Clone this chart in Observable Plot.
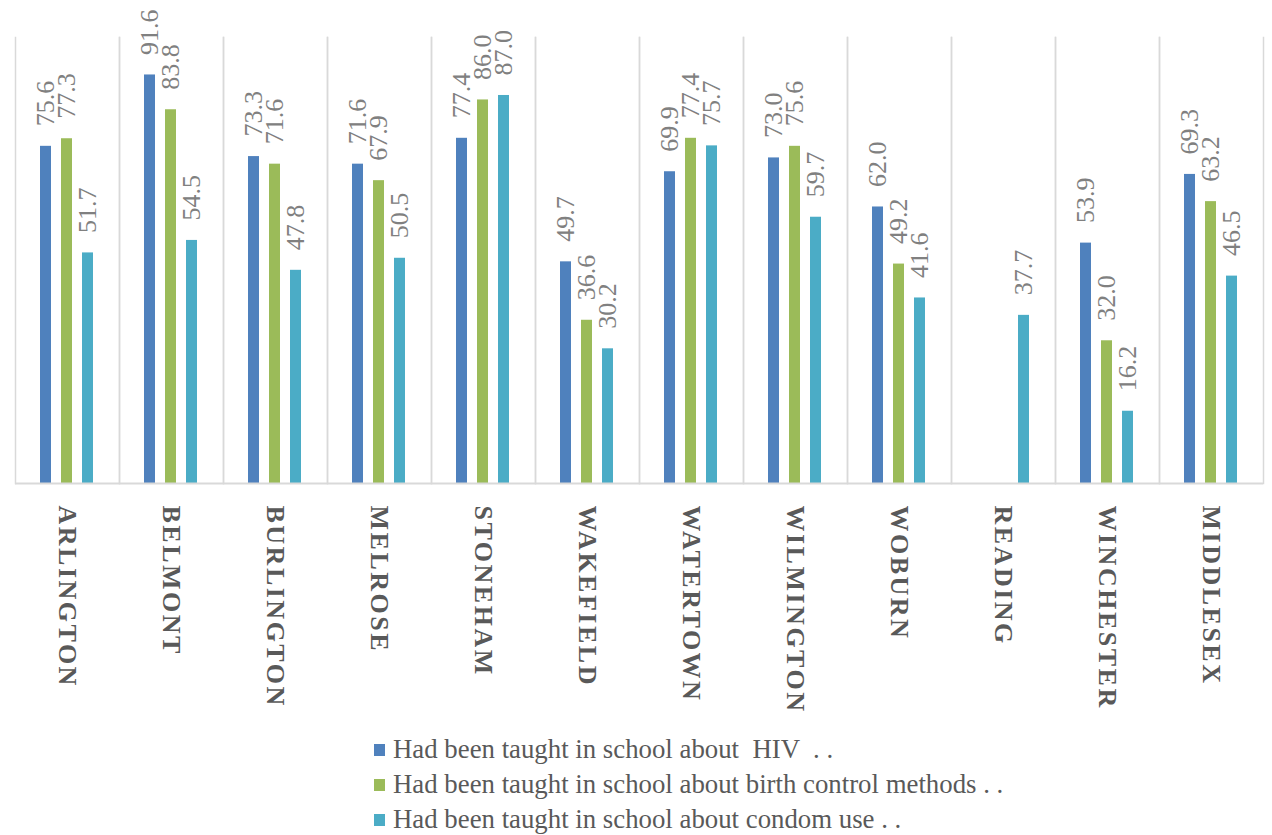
<!DOCTYPE html>
<html>
<head>
<meta charset="utf-8">
<script src="https://cdn.jsdelivr.net/npm/d3@7"></script>
<script src="https://cdn.jsdelivr.net/npm/@observablehq/plot@0.6"></script>
<style>
  html, body { margin: 0; padding: 0; background: #fff; }
  #chart { width: 1272px; }
  g[aria-label="fx-axis tick label"] text { letter-spacing: 2.5px; }
  #legend { position: relative; margin-left: 374px; font-family: "Liberation Serif", "Times New Roman", serif; font-size: 26.8px; color: #595959; }
  .item { height: 35px; line-height: 35px; display: flex; align-items: center; white-space: pre; }
  .sw { width: 11px; height: 12px; margin-right: 8px; flex: none; }
</style>
</head>
<body>
<div id="chart"></div>
<script>
const towns = ["ARLINGTON","BELMONT","BURLINGTON","MELROSE","STONEHAM","WAKEFIELD","WATERTOWN","WILMINGTON","WOBURN","READING","WINCHESTER","MIDDLESEX"];
const seriesNames = [
  "Had been taught in school about  HIV  . .",
  "Had been taught in school about birth control methods . .",
  "Had been taught in school about condom use . ."
];
const hiv          = [75.6, 91.6, 73.3, 71.6, 77.4, 49.7, 69.9, 73.0, 62.0, null, 53.9, 69.3];
const birthControl = [77.3, 83.8, 71.6, 67.9, 86.0, 36.6, 77.4, 75.6, 49.2, null, 32.0, 63.2];
const condomUse    = [51.7, 54.5, 47.8, 50.5, 87.0, 30.2, 75.7, 59.7, 41.6, 37.7, 16.2, 46.5];
const colors = ["#4f81bd", "#9bbb59", "#4bacc6"];

const seriesValues = [hiv, birthControl, condomUse];
const data = [];
towns.forEach((t, i) => {
  seriesValues.forEach((vals, s) => {
    if (vals[i] != null) data.push({town: t, series: seriesNames[s], value: vals[i]});
  });
});

const serif = "Liberation Serif, Times New Roman, serif";

const chart = Plot.plot({
  width: 1272,
  height: 732,
  marginTop: 37,
  marginBottom: 249,
  marginLeft: 10,
  marginRight: 4,
  style: {fontFamily: serif, color: "#595959", background: "#fff", overflow: "visible"},
  fx: {domain: towns, padding: 0, label: null},
  x: {domain: seriesNames, paddingInner: 10 / 22, paddingOuter: 1.114, axis: null},
  y: {domain: [0, 100], axis: null},
  color: {domain: seriesNames, range: colors},
  marks: [
    Plot.frame({anchor: "left", stroke: "#d9d9d9", strokeWidth: 1.5}),
    Plot.frame({anchor: "right", stroke: "#d9d9d9", strokeWidth: 1.5}),
    Plot.barY(data, {fx: "town", x: "series", y: "value", fill: "series"}),
    Plot.ruleY([0], {stroke: "#d9d9d9", strokeWidth: 2}),
    Plot.text(data, {
      fx: "town", x: "series", y: "value",
      text: d => d.value.toFixed(1),
      rotate: -90, textAnchor: "start", dy: -20,
      fontSize: 26, fill: "#808080", fontFamily: serif
    }),
    Plot.axisFx({
      anchor: "bottom", tickRotate: 90, tickSize: 0, tickPadding: 22,
      fontSize: 26, fontWeight: "bold", fill: "#595959", fontFamily: serif, label: null
    })
  ]
});
document.getElementById("chart").appendChild(chart);

const legend = document.createElement("div");
legend.id = "legend";
seriesNames.forEach((name, i) => {
  const row = document.createElement("div");
  row.className = "item";
  const sw = document.createElement("span");
  sw.className = "sw";
  sw.style.background = colors[i];
  const lab = document.createElement("span");
  lab.textContent = name;
  row.appendChild(sw);
  row.appendChild(lab);
  legend.appendChild(row);
});
document.body.appendChild(legend);
</script>
</body>
</html>
